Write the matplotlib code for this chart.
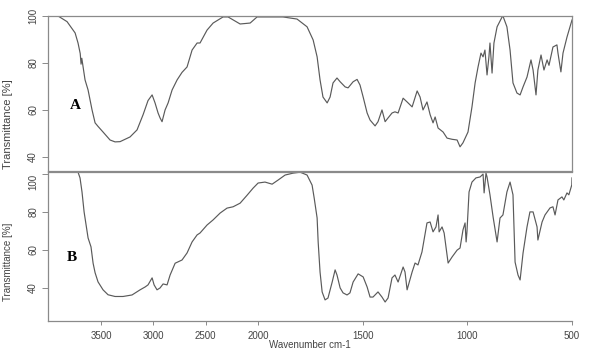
import numpy as np
import matplotlib
matplotlib.use("Agg")
import matplotlib.pyplot as plt

# ---- Data ----
wn_a = [4008, 3912, 3826, 3749, 3721, 3700, 3692, 3685, 3654, 3625, 3587, 3558, 3530, 3482, 3415,
        3367, 3319, 3224, 3157, 3099, 3052, 3013, 2985, 2956, 2937, 2918, 2889, 2860, 2822,
        2774, 2727, 2679, 2631, 2583, 2555, 2488, 2430, 2335, 2287, 2172, 2076, 2010, 1881,
        1814, 1766, 1737, 1718, 1704, 1690, 1670, 1656, 1642, 1623, 1608, 1584, 1570, 1546,
        1527, 1513, 1498, 1479, 1465, 1441, 1427, 1408, 1393, 1379, 1360, 1346, 1331, 1307,
        1288, 1264, 1240, 1226, 1212, 1193, 1178, 1164, 1154, 1140, 1116, 1097, 1073, 1049,
        1035, 1021, 997, 978, 963, 949, 935, 925, 916, 906, 897, 892, 882, 873, 858, 834,
        830, 811, 796, 782, 763, 748, 734, 715, 696, 686, 672, 663, 648, 634, 619, 610,
        591, 572, 567, 553, 543, 524, 500]
tr_a = [100, 100, 97.6, 92.8, 88.5, 84.0, 79.5, 82.0, 72.8, 68.5, 60, 54.5, 53, 50.6, 47.2,
        46.4, 46.5, 48.5, 51.5, 58, 64, 66.4, 63, 58.7, 56.6, 55, 60, 63, 68.5,
        72.8, 76, 78.3, 85.5, 88.5, 88.5, 94, 97, 99.6, 99.6, 96.6, 97, 99.6, 99.6,
        98.7, 95.4, 89.8, 82.6, 72.8, 65.5, 63, 65.5, 71.5, 73.6, 72, 69.8, 69.4, 72,
        73, 70.6, 65.5, 58.7, 55.7, 53.2, 55, 60, 55, 56.6, 58.7, 59.2, 58.7, 65,
        63.4, 61.3, 68.1, 65.5, 60, 63.4, 58, 54.5, 57, 52.3, 50.6, 48, 47.5, 47.2,
        44.3, 46, 50.6, 61.3, 71.5, 78.3, 84.2, 82.6, 85.5, 74.9, 82.6, 88.5, 75.7, 88.5, 95.4, 99.6,
        100, 95.4, 85.5, 71.5, 67.2, 66.4, 69.8, 74, 81.3, 77, 66.4, 77, 83.4, 77, 81.3, 79,
        86.8, 87.7, 84.2, 76.2, 84.2, 91, 98.3]

wn_b = [4008, 3721, 3702, 3683, 3663, 3644, 3625, 3597, 3577, 3558, 3530, 3482, 3434, 3367,
        3291, 3205, 3128, 3080, 3052, 3013, 2994, 2966, 2937, 2908, 2870, 2841, 2793, 2727,
        2679, 2631, 2583, 2555, 2488, 2430, 2363, 2297, 2239, 2172, 2105, 2048, 2000, 1967,
        1933, 1904, 1871, 1833, 1799, 1766, 1742, 1732, 1718, 1713, 1704, 1694, 1680, 1666,
        1646, 1632, 1623, 1608, 1594, 1575, 1561, 1546, 1522, 1498, 1479, 1465, 1451, 1427,
        1408, 1393, 1379, 1360, 1346, 1331, 1307, 1298, 1288, 1264, 1250, 1236, 1217, 1193,
        1178, 1164, 1150, 1140, 1135, 1121, 1111, 1097, 1092, 1073, 1049, 1035, 1021, 1011,
        1006, 1002, 992, 978, 959, 939, 925, 920, 911, 906, 892, 877, 858, 844, 830, 811,
        796, 782, 772, 758, 748, 734, 715, 701, 686, 667, 663, 643, 629, 605, 591, 581,
        567, 548, 539, 524, 515, 501, 500]
tr_b = [100.9, 100.9, 97.9, 90.5, 80, 73, 66.3, 61.6, 53, 48, 43.2, 39, 36.4, 35.5,
        35.5, 36.3, 39, 40.5, 41.6, 45.3, 41.6, 39, 40, 42.1, 41.6, 46.8, 53, 54.7,
        58.4, 64.2, 67.9, 68.9, 73.1, 75.8, 79.4, 82, 82.7, 84.6, 88.8, 92.5, 95.2, 95.7,
        94.6, 96.8, 99.4, 100.4, 100.9, 99.4, 94.1, 87.3, 76.8, 64.2, 48.4, 37.9, 33.7, 34.7,
        43.1, 49.5, 46.8, 40, 37.4, 36.3, 37.4, 43.1, 47.4, 45.8, 40.5, 35.2, 35.2, 37.9,
        35.2, 32.6, 34.7, 45.3, 46.8, 43.1, 51, 48.4, 39, 48.4, 53.1, 52.1, 58.9, 74.2,
        74.7, 69.5, 72.1, 78.4, 69.5, 72.1, 68.9, 57.4, 53.1, 56.3, 59.9, 61, 70.5, 74.2,
        64.2, 69.5, 90.5, 95.7, 97.9, 98.4, 99.9, 90, 100.4, 98.4, 89, 77.3, 64.2, 76.8, 78.4, 90.5,
        95.7, 89, 53.6, 46.8, 44.2, 58.3, 72.1, 80, 80, 72.1, 65.2, 74.7, 78.4, 82.1, 82.7, 78.4,
        86.3, 87.9, 86.3, 90, 89, 94.2, 97.9]

xticks = [3500, 3000, 2500, 2000, 1500, 1000, 500]
xtick_labels = ["3500", "3000", "2500", "2000", "1500", "1000", "500"]
yticks = [40, 60, 80, 100]
ylabel = "Transmittance [%]"
xlabel = "Wavenumber cm-1"


def fwd(w):
    w = np.asarray(w, dtype=float)
    return np.where(w > 2000, 2000 + (w - 2000) / 2.0, w)


def inv(t):
    t = np.asarray(t, dtype=float)
    return np.where(t > 2000, 2000 + (t - 2000) * 2.0, t)


plt.rcParams['font.family'] = ['Liberation Sans', 'DejaVu Sans']

W, H = 592, 351
fig = plt.figure(figsize=(W / 100, H / 100), dpi=100)
L, R = 48 / W, 572 / W
axA = fig.add_axes([L, 1 - 171 / H, R - L, (171 - 16) / H])
axB = fig.add_axes([L, 1 - 321 / H, R - L, (321 - 172) / H])

line_c = '#5a5a5a'
spine_c = '#8a8a8a'
text_c = '#444444'

for ax, wn, tr, ylim in [(axA, wn_a, tr_a, (34, 100)), (axB, wn_b, tr_b, (22.6, 101))]:
    ax.plot(wn, tr, color=line_c, lw=0.85)
    ax.set_xscale('function', functions=(fwd, inv))
    ax.set_xlim(4008, 500)
    ax.set_ylim(*ylim)
    ax.set_yticks(yticks)
    ax.set_yticklabels([str(v) for v in yticks], rotation=90, va='center',
                       fontsize=7, color=text_c)
    ax.tick_params(axis='y', direction='out', length=4, width=0.7, color=spine_c, pad=3)
    for s in ax.spines.values():
        s.set_color(spine_c)
        s.set_linewidth(0.9)

axA.set_xticks([])
axA.set_ylabel(ylabel, fontsize=8, color=text_c, labelpad=2)
axA.yaxis.set_label_coords(-0.067, 0.30)

axB.spines['right'].set_visible(False)
axB.set_xticks(xticks)
axB.set_xticklabels(xtick_labels, fontsize=7, color=text_c)
axB.tick_params(axis='x', direction='out', length=3, width=0.7, color=spine_c, pad=4)
axB.minorticks_off()
axB.set_ylabel(ylabel, fontsize=7, color=text_c)
axB.yaxis.set_label_coords(-0.067, 0.40)
# shift the top "100" label of panel B slightly down, as in the reference
axB.get_yticklabels()[-1].set_va('top')

axA.text(3750, 62, "A", fontsize=11, fontweight='bold', family=['Liberation Serif', 'DejaVu Serif'],
         ha='center', va='center', color='black')
axB.text(3778, 55.8, "B", fontsize=11, fontweight='bold', family=['Liberation Serif', 'DejaVu Serif'],
         ha='center', va='center', color='black')

fig.text(310 / W, 1 - 350 / H, xlabel, fontsize=7, color=text_c, ha='center', va='bottom')

fig.savefig("out.png", dpi=100)
